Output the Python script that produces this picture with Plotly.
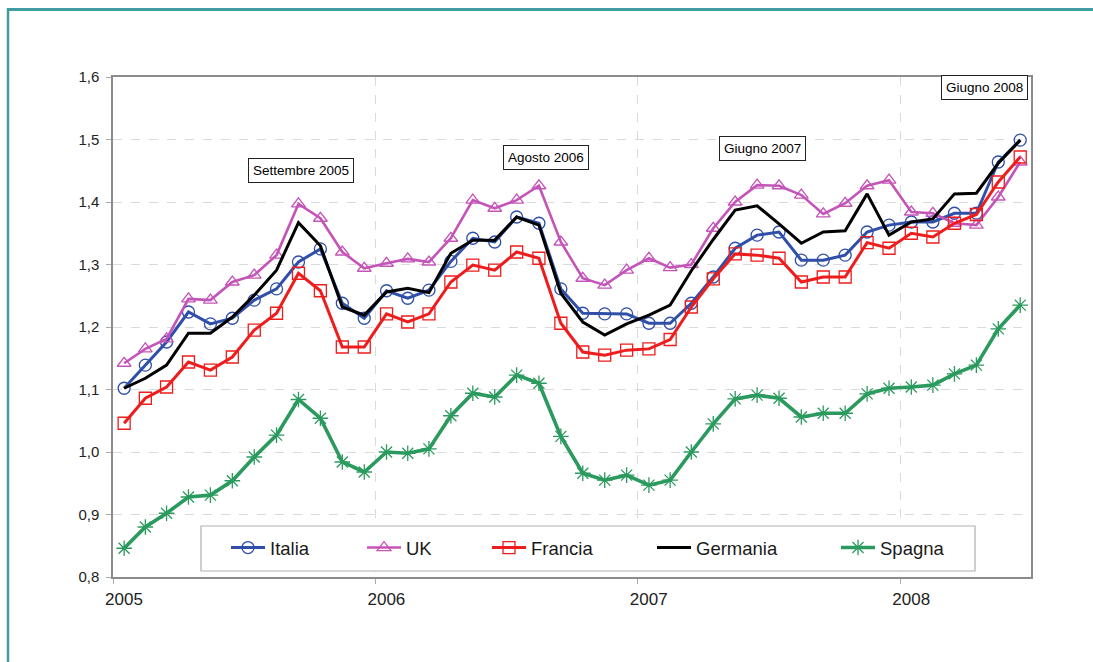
import pandas as pd
import plotly.graph_objects as go

# Monthly observations, January 2005 - June 2008
months = pd.date_range("2005-01-01", "2008-06-01", freq="MS")

italia = [1.102, 1.139, 1.176, 1.224, 1.205, 1.214, 1.243, 1.261, 1.304, 1.325,
          1.238, 1.214, 1.258, 1.246, 1.259, 1.305, 1.342, 1.336, 1.376, 1.366,
          1.261, 1.222, 1.221, 1.221, 1.206, 1.206, 1.238, 1.280, 1.326, 1.347,
          1.352, 1.307, 1.307, 1.315, 1.352, 1.363, 1.368, 1.368, 1.382, 1.382,
          1.464, 1.499]
uk = [1.142, 1.165, 1.181, 1.245, 1.243, 1.272, 1.283, 1.315, 1.397, 1.374,
      1.320, 1.294, 1.302, 1.309, 1.304, 1.342, 1.403, 1.390, 1.403, 1.426,
      1.336, 1.278, 1.267, 1.291, 1.310, 1.295, 1.300, 1.358, 1.400, 1.427,
      1.426, 1.411, 1.381, 1.398, 1.426, 1.435, 1.384, 1.382, 1.366, 1.363,
      1.408, 1.464]
francia = [1.046, 1.086, 1.104, 1.144, 1.131, 1.152, 1.195, 1.222, 1.286, 1.258,
           1.168, 1.168, 1.221, 1.208, 1.221, 1.272, 1.299, 1.291, 1.320, 1.310,
           1.206, 1.160, 1.155, 1.163, 1.165, 1.180, 1.232, 1.277, 1.317, 1.315,
           1.310, 1.272, 1.280, 1.280, 1.335, 1.326, 1.350, 1.344, 1.366, 1.380,
           1.432, 1.472]
germania = [1.102, 1.118, 1.139, 1.190, 1.190, 1.216, 1.251, 1.291, 1.367, 1.330,
            1.232, 1.219, 1.256, 1.262, 1.255, 1.318, 1.339, 1.339, 1.376, 1.363,
            1.254, 1.208, 1.187, 1.205, 1.219, 1.235, 1.290, 1.340, 1.387, 1.394,
            1.365, 1.334, 1.352, 1.354, 1.413, 1.347, 1.368, 1.373, 1.413, 1.414,
            1.462, 1.499]
spagna = [0.846, 0.880, 0.902, 0.928, 0.931, 0.954, 0.992, 1.027, 1.084, 1.054,
          0.984, 0.968, 1.000, 0.998, 1.005, 1.058, 1.094, 1.088, 1.123, 1.110,
          1.025, 0.966, 0.955, 0.963, 0.947, 0.955, 1.000, 1.045, 1.085, 1.091,
          1.086, 1.056, 1.062, 1.062, 1.093, 1.102, 1.104, 1.107, 1.125, 1.139,
          1.197, 1.235]

year_ticks = ["2005-01-01", "2006-01-01", "2007-01-01", "2008-01-01"]
year_labels = ["2005", "2006", "2007", "2008"]

events = ["Settembre 2005", "Agosto 2006", "Giugno 2007", "Giugno 2008"]
event_x = ["2005-09-20", "2006-08-26", "2007-06-24", "2008-04-28"]
event_y = [1.450, 1.472, 1.485, 1.584]

FONT = "Liberation Sans, Arial, sans-serif"

series = [
    ("Italia", italia, "#2f4fa8", "circle-open", 12, 3.0),
    ("UK", uk, "#c454b8", "triangle-up-open", 12, 2.6),
    ("Francia", francia, "#ee1d1d", "square-open", 12, 3.0),
    ("Germania", germania, "black", None, 0, 3.0),
    ("Spagna", spagna, "#2b9a5e", "asterisk-open", 13, 3.6),
]

# pixel geometry of the plotting area, used to place legend entries
L, R, T, B = 113, 1031, 77, 577
legend_px = [232, 368, 493, 658, 842]
legend_keys = ["legend", "legend2", "legend3", "legend4", "legend5"]

fig = go.Figure()
for (name, vals, color, sym, size, lw), key in zip(series, legend_keys):
    kw = dict(
        x=months, y=vals, name=name,
        xperiod="M1", xperiodalignment="middle",
        line=dict(color=color, width=lw),
        legend=key, showlegend=True,
    )
    if sym:
        kw["mode"] = "lines+markers"
        kw["marker"] = dict(symbol=sym, size=size, color=color,
                            line=dict(color=color, width=1.3))
    else:
        kw["mode"] = "lines"
    fig.add_trace(go.Scatter(**kw))

shapes = []
px2x = lambda px: (px - L) / (R - L)
py2y = lambda py: (B - py) / (B - T)
# outer teal frame (top and left edges)
shapes.append(dict(type="line", xref="paper", yref="paper",
                   x0=px2x(7), x1=px2x(1100), y0=py2y(9.5), y1=py2y(9.5),
                   line=dict(color="#3f9ca2", width=3)))
shapes.append(dict(type="line", xref="paper", yref="paper",
                   x0=px2x(8), x1=px2x(8), y0=py2y(8), y1=py2y(670),
                   line=dict(color="#3f9ca2", width=2.5)))
# legend frame
shapes.append(dict(type="rect", xref="paper", yref="paper",
                   x0=px2x(201), x1=px2x(975), y0=py2y(571), y1=py2y(526),
                   line=dict(color="#b0b0b0", width=1.2), fillcolor="white",
                   layer="above"))

legends = {}
for key, px in zip(legend_keys, legend_px):
    legends[key] = dict(
        x=px2x(px - 6), y=py2y(548), xanchor="left", yanchor="middle",
        orientation="h", bgcolor="rgba(0,0,0,0)", borderwidth=0,
        font=dict(family=FONT, size=18.5, color="#1a1a1a"),
        itemwidth=34,
    )

annotations = []
for txt, ex, ey in zip(events, event_x, event_y):
    annotations.append(dict(
        x=ex, y=ey, xref="x", yref="y", text=txt, showarrow=False,
        font=dict(family=FONT, size=13.5, color="black"),
        bgcolor="white", bordercolor="#222", borderwidth=1, borderpad=4,
    ))

fig.update_layout(
    width=1093, height=662,
    margin=dict(l=L, r=1093 - R, t=T, b=662 - B),
    paper_bgcolor="white", plot_bgcolor="white",
    separators=",.",
    showlegend=True,
    font=dict(family=FONT, color="#222"),
    shapes=shapes,
    annotations=annotations,
    **legends,
)

fig.update_xaxes(
    type="date", range=["2005-01-01", "2008-07-01"],
    tickvals=year_ticks, ticktext=year_labels,
    ticks="outside", ticklen=5, tickcolor="#aaaaaa",
    ticklabelshift=11, ticklabelstandoff=1,
    tickfont=dict(family=FONT, size=17, color="#222"),
    showgrid=True, gridcolor="#dadada", griddash="dash", gridwidth=1,
    showline=True, linecolor="#8c8c8c", linewidth=1.5, mirror=True,
    zeroline=False,
)
fig.update_yaxes(
    range=[0.8, 1.6], dtick=0.1, tick0=0.8, tickformat=".1f",
    ticks="outside", ticklen=5, tickcolor="#aaaaaa",
    ticklabelstandoff=4,
    tickfont=dict(family=FONT, size=15, color="#222"),
    showgrid=True, gridcolor="#dadada", griddash="dash", gridwidth=1,
    showline=True, linecolor="#8c8c8c", linewidth=1.5, mirror=True,
    zeroline=False,
)

fig.write_html("out.html")
